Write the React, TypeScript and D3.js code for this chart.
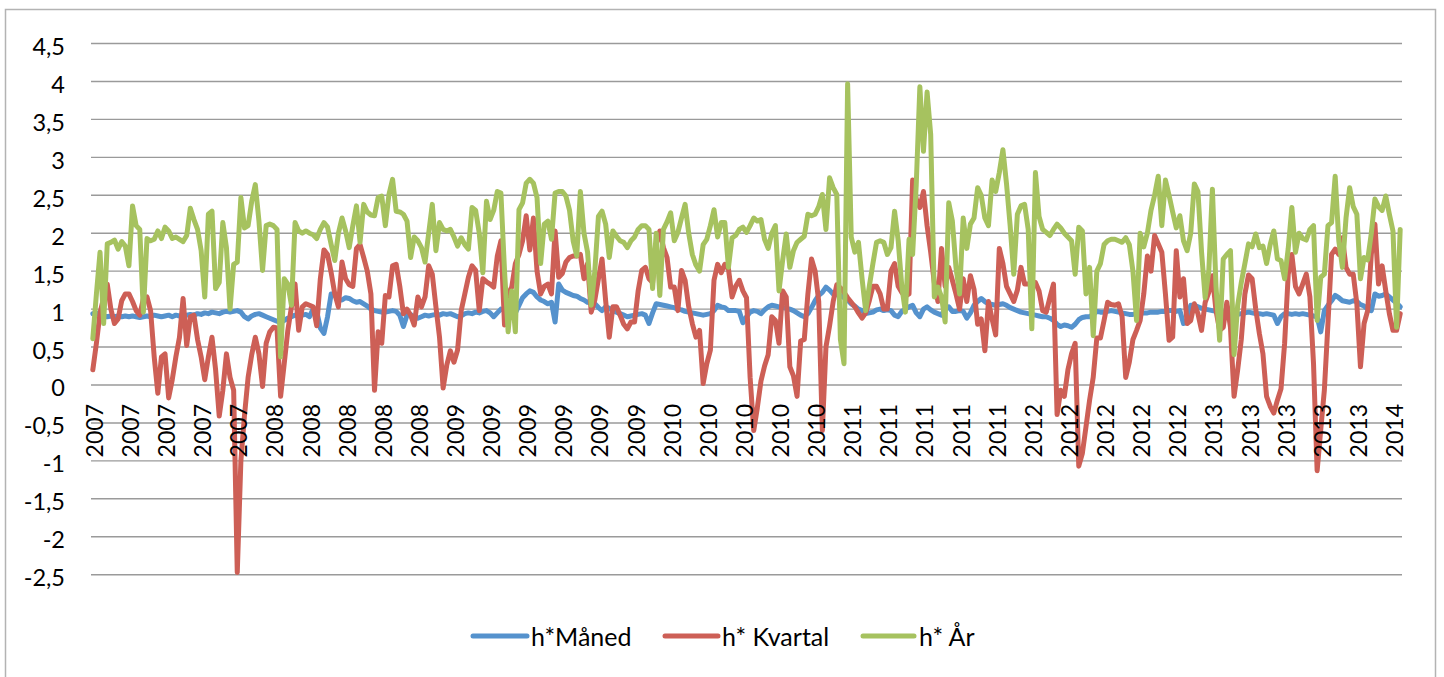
import React from "react";
import * as d3 from "d3";

// ---- Data (weekly observations, 2007 – 2014) ----
const hMaaned: number[] = [
  0.94,0.95,0.92,0.91,0.9,0.91,0.9,0.91,0.9,0.91,
  0.9,0.91,0.9,0.89,0.9,0.91,0.9,0.92,0.91,0.9,
  0.91,0.92,0.9,0.92,0.91,0.9,0.92,0.93,0.92,0.94,
  0.93,0.95,0.94,0.96,0.95,0.94,0.96,0.97,0.96,0.97,
  0.98,0.96,0.9,0.87,0.91,0.93,0.94,0.92,0.9,0.88,
  0.86,0.84,0.82,0.85,0.88,0.9,0.92,0.91,0.92,0.93,
  0.9,1.0,0.97,0.75,0.68,0.9,1.2,1.18,1.12,1.12,
  1.15,1.14,1.11,1.09,1.1,1.07,1.04,1.0,0.98,0.97,
  0.96,0.96,0.97,0.98,0.97,0.92,0.77,0.92,0.93,0.89,
  0.88,0.9,0.92,0.91,0.92,0.93,0.92,0.94,0.93,0.94,
  0.92,0.9,0.91,0.94,0.95,0.94,0.96,0.95,0.97,0.98,
  0.95,0.9,0.95,1.0,0.99,0.98,0.96,0.95,1.05,1.15,
  1.2,1.24,1.22,1.16,1.12,1.1,1.07,1.09,0.83,1.33,
  1.25,1.22,1.2,1.18,1.17,1.14,1.12,1.09,1.08,1.07,
  1.02,0.98,1.03,1.01,0.98,0.96,0.94,0.92,0.9,0.91,
  0.92,0.93,0.94,0.92,0.81,0.95,1.07,1.06,1.05,1.04,
  1.03,1.02,1.0,0.99,0.97,0.96,0.95,0.94,0.93,0.92,
  0.93,0.94,0.98,1.05,1.03,1.02,0.98,0.98,0.98,0.97,
  0.82,0.9,0.96,0.98,0.97,0.94,0.99,1.03,1.05,1.04,
  1.03,1.02,1.01,1.0,0.98,0.95,0.92,0.9,0.94,1.02,
  1.11,1.18,1.22,1.29,1.25,1.2,1.19,1.18,1.15,1.12,
  1.07,1.04,1.0,0.98,0.94,0.95,0.96,0.99,1.0,0.98,
  0.99,0.98,0.92,0.9,0.97,1.0,1.03,1.05,0.95,0.9,
  1.0,1.03,0.99,0.96,0.94,0.92,1.01,1.03,0.97,0.97,
  0.98,0.97,0.88,0.95,1.05,1.1,1.14,1.1,1.07,1.06,
  1.05,1.06,1.07,1.05,1.02,1.0,0.98,0.96,0.95,0.94,
  0.93,0.92,0.91,0.9,0.9,0.88,0.85,0.8,0.77,0.79,
  0.78,0.76,0.8,0.86,0.89,0.9,0.9,0.93,0.97,0.96,
  0.96,0.97,0.98,0.97,0.96,0.95,0.94,0.93,0.93,0.94,
  0.94,0.95,0.95,0.96,0.96,0.96,0.97,0.97,0.98,0.98,
  0.97,0.98,0.81,0.83,1.05,1.05,1.03,1.01,1.0,0.99,
  0.98,0.97,0.96,0.96,0.95,0.93,0.92,0.93,0.94,0.95,
  0.96,0.95,0.94,0.94,0.93,0.94,0.93,0.92,0.81,0.9,
  0.94,0.94,0.93,0.94,0.93,0.94,0.93,0.92,0.91,0.9,
  0.7,0.98,1.05,1.11,1.18,1.15,1.11,1.1,1.09,1.11,
  1.1,1.06,1.04,1.0,0.98,1.2,1.17,1.18,1.2,1.16,
  1.12,1.08,1.03,
];

const hKvartal: number[] = [
  0.2,0.55,0.95,1.15,1.33,1.0,0.81,0.87,1.11,1.2,
  1.2,1.1,0.98,0.92,1.14,1.16,0.98,0.37,-0.11,0.37,
  0.41,-0.17,0.07,0.37,0.63,1.14,0.52,0.9,0.92,0.6,
  0.37,0.07,0.37,0.63,0.2,-0.41,-0.07,0.41,0.1,-0.07,
  -2.47,-1.0,-0.4,0.1,0.4,0.63,0.41,-0.02,0.55,0.7,
  0.76,0.75,-0.15,0.28,0.72,1.03,1.33,0.72,1.03,1.07,
  1.05,1.03,0.78,1.4,1.78,1.72,1.48,1.2,1.03,1.62,
  1.4,1.32,1.3,1.8,1.85,1.68,1.5,1.2,-0.07,0.7,
  0.55,1.18,1.16,1.57,1.59,1.3,0.94,1.0,0.92,0.79,
  1.16,1.03,1.16,1.57,1.46,1.03,0.63,-0.04,0.26,0.45,
  0.3,0.46,0.98,1.2,1.42,1.57,1.51,0.98,1.4,1.36,
  1.33,1.29,1.7,1.9,0.79,1.2,1.29,1.6,1.72,1.9,
  2.23,1.78,2.2,1.5,1.2,1.3,1.33,1.2,2.03,1.42,
  1.47,1.62,1.68,1.7,1.7,1.72,1.4,1.6,0.96,1.12,
  1.4,1.66,1.11,0.63,1.03,1.03,0.92,0.8,0.74,0.83,
  0.83,1.24,1.51,1.55,1.4,1.35,1.86,2.03,1.81,1.68,
  1.29,1.29,0.98,1.51,1.38,1.03,0.81,0.63,0.72,0.02,
  0.28,0.46,1.38,1.59,1.48,1.59,1.53,1.16,1.3,1.38,
  1.24,1.15,0.1,-0.6,-0.3,0.05,0.25,0.4,0.9,0.85,
  0.55,1.24,1.16,0.24,0.12,-0.15,0.58,0.6,1.2,1.66,
  1.5,1.1,-0.6,0.5,0.78,1.1,1.32,1.28,1.22,1.15,
  1.09,1.03,0.95,0.88,0.95,1.11,1.3,1.3,1.2,1.0,
  1.0,1.5,1.6,1.3,1.22,1.17,1.2,2.7,2.45,2.34,
  2.55,2.1,1.75,1.35,1.1,1.8,1.3,1.55,1.38,1.2,
  1.0,1.4,1.1,1.44,1.26,0.8,0.87,0.45,1.1,0.87,
  0.66,1.8,1.6,1.3,1.2,1.1,1.25,1.55,1.33,1.33,
  1.36,1.35,1.24,0.98,0.96,1.15,1.33,-0.39,-0.07,-0.15,
  0.2,0.41,0.55,-1.07,-0.9,-0.55,-0.2,0.1,0.62,0.62,
  0.85,1.09,1.06,1.05,1.07,0.9,0.1,0.3,0.6,0.72,
  0.85,1.2,1.7,1.5,1.97,1.86,1.75,1.2,0.59,0.63,
  1.77,1.16,1.4,0.81,0.85,1.07,0.94,0.72,1.09,1.22,
  1.44,0.98,0.72,0.76,1.09,0.76,-0.15,0.2,0.6,1.2,
  1.45,1.4,1.0,0.68,0.41,-0.15,-0.28,-0.37,-0.2,-0.05,
  0.55,1.46,1.72,1.3,1.2,1.33,1.46,1.16,0.28,-1.13,
  -0.59,-0.07,0.81,1.72,1.79,1.72,1.94,1.55,1.46,1.46,
  1.07,0.24,0.81,0.98,1.72,2.12,1.33,1.57,1.24,0.94,
  0.72,0.72,0.94,
];

const hAar: number[] = [
  0.61,1.2,1.75,0.81,1.86,1.88,1.91,1.79,1.89,1.83,
  1.57,2.36,2.1,2.05,0.96,1.93,1.9,1.92,2.03,1.93,
  2.08,2.03,1.93,1.95,1.92,1.89,1.97,2.33,2.18,2.05,
  1.77,1.16,2.25,2.29,1.27,1.35,2.14,1.81,1.0,1.59,
  1.62,2.47,2.07,2.1,2.42,2.64,2.16,1.51,2.1,2.12,
  2.1,2.05,0.37,1.4,1.33,1.05,2.14,2.03,2.0,2.03,
  2.0,1.98,1.93,2.05,2.14,2.08,1.85,1.64,2.0,2.2,
  2.03,1.81,2.1,2.36,1.88,2.38,2.28,2.24,2.23,2.47,
  2.49,2.1,2.51,2.71,2.29,2.28,2.25,2.16,1.68,1.95,
  1.9,1.81,1.62,2.0,2.38,1.77,2.14,2.05,2.03,2.05,
  1.95,1.83,1.94,1.85,1.79,2.34,2.3,2.0,1.48,2.42,
  2.18,2.3,2.55,2.53,1.5,0.7,1.24,0.7,2.31,2.4,
  2.66,2.71,2.66,2.47,1.6,2.12,2.16,1.92,2.53,2.55,
  2.55,2.49,2.3,1.9,1.7,2.55,2.0,1.75,1.05,1.5,
  2.22,2.29,2.12,1.68,2.03,1.96,1.9,1.88,1.81,1.9,
  1.95,2.05,2.1,2.1,2.05,1.27,2.0,1.18,2.05,2.15,
  2.27,1.9,2.01,2.2,2.38,2.0,1.72,1.58,1.5,1.85,
  1.92,2.1,2.31,1.95,2.14,2.14,1.55,1.94,1.97,2.05,
  2.08,2.01,2.1,2.2,2.16,2.18,1.92,1.8,2.0,2.1,
  1.24,1.64,1.99,1.55,1.77,1.88,1.92,1.96,2.25,2.23,
  2.25,2.35,2.51,2.05,2.73,2.6,2.51,0.6,0.28,3.97,
  1.95,1.75,1.88,1.4,0.98,1.3,1.6,1.88,1.9,1.88,
  1.72,1.81,2.29,1.9,1.3,0.96,1.92,1.72,2.64,3.93,
  3.08,3.86,3.3,1.16,1.29,1.16,0.83,2.4,2.16,1.55,
  1.2,2.2,1.8,2.12,2.2,2.6,2.5,2.2,2.1,2.7,
  2.55,2.8,3.1,2.65,2.1,1.46,2.25,2.36,2.38,2.05,
  0.74,2.8,2.22,2.05,2.01,1.97,2.05,2.12,2.07,2.0,
  1.95,1.9,1.46,2.08,2.03,1.2,1.55,0.65,1.5,1.6,
  1.85,1.9,1.92,1.92,1.9,1.88,1.94,1.85,1.5,0.85,
  2.0,1.82,2.0,2.3,2.5,2.75,2.1,2.7,2.5,2.28,
  2.07,2.23,1.9,1.77,2.0,2.65,2.55,1.75,1.15,1.5,
  2.58,1.3,0.59,1.66,1.72,1.77,0.4,1.05,1.35,1.6,
  1.86,1.82,1.99,1.81,1.83,1.6,1.85,2.03,1.66,1.64,
  1.4,1.8,2.34,1.75,2.0,1.93,1.91,2.05,2.1,0.85,
  1.42,1.46,2.1,2.14,2.75,1.9,1.55,2.2,2.6,2.35,
  2.25,1.4,1.68,1.65,2.0,2.45,2.35,2.3,2.49,2.25,
  2.03,0.76,2.05,
];

// category labels shown on every 10th week
const tickLabels: string[] = [
  "2007","2007","2007","2007","2007",
  "2008","2008","2008","2008","2008",
  "2009","2009","2009","2009","2009","2009",
  "2010","2010","2010","2010","2010",
  "2011","2011","2011","2011","2011",
  "2012","2012","2012","2012","2012",
  "2013","2013","2013","2013","2013",
  "2014",
];
const tickStep = 10;

const yTicks: number[] = [4.5, 4, 3.5, 3, 2.5, 2, 1.5, 1, 0.5, 0, -0.5, -1, -1.5, -2, -2.5];

const seriesNames: string[] = ["h*Måned", "h* Kvartal", "h* År"];
const seriesColors: string[] = ["#5592cd", "#cd5f56", "#a6c25f"];

const FONT = "Lato, 'Open Sans', 'Liberation Sans', sans-serif";

export default function App() {
  const W = 1444, H = 677;
  const left = 91, right = 1402, top = 43.5, bottom = 574.7;
  const series = [hMaaned, hKvartal, hAar];
  const n = hMaaned.length;
  const categories = d3.range(n);

  const xBand = d3.scaleBand<number>().domain(categories).range([left, right]).padding(0);
  const xc = (i: number) => (xBand(i) as number) + xBand.bandwidth() / 2;
  const y = d3.scaleLinear().domain([-2.5, 4.5]).range([bottom, top]);

  const line = d3.line<number>().x((_, i) => xc(i)).y((d) => y(d));

  const fmt = (v: number) => String(v).replace(".", ",");

  const legendItems = [
    { x0: 473, x1: 527, tx: 531 },
    { x0: 665, x1: 718, tx: 722 },
    { x0: 863, x1: 914, tx: 919 },
  ];

  return (
    <svg
      width={W}
      height={H}
      style={{ position: "absolute", left: 0, top: 0, display: "block", background: "#fff" }}
      fontFamily={FONT}
    >
      <rect x={5.5} y={9.5} width={1430} height={700} fill="#fff" stroke="#b3b3b3" strokeWidth={1.5} />
      {/* gridlines */}
      {yTicks.map((t) => (
        <line key={"g" + t} x1={left} x2={right} y1={y(t)} y2={y(t)} stroke="#9a9a9a" strokeWidth={1.4} />
      ))}
      {/* y tick labels */}
      {yTicks.map((t) => (
        <text key={"yl" + t} x={65} y={y(t) + 11.5} textAnchor="end" fontSize={23.5} fill="#000">
          {fmt(t)}
        </text>
      ))}
      {/* series */}
      {series.map((s, k) => (
        <path
          key={"s" + k}
          d={line(s) || ""}
          fill="none"
          stroke={seriesColors[k]}
          strokeWidth={5}
          strokeLinejoin="round"
          strokeLinecap="round"
        />
      ))}
      {/* x tick labels */}
      {tickLabels.map((lab, j) => {
        const xi = xc(j * tickStep) + 1.5;
        return (
          <text
            key={"xl" + j}
            transform={`translate(${xi},404) rotate(-90)`}
            y={8.5}
            textAnchor="end"
            fontSize={23}
            fill="#000"
          >
            {lab}
          </text>
        );
      })}
      {/* legend */}
      {legendItems.map((it, k) => (
        <g key={"lg" + k}>
          <line x1={it.x0} x2={it.x1} y1={636} y2={636} stroke={seriesColors[k]} strokeWidth={5} strokeLinecap="round" />
          <text x={it.tx} y={646} fontSize={25} fill="#000">
            {seriesNames[k]}
          </text>
        </g>
      ))}
    </svg>
  );
}
